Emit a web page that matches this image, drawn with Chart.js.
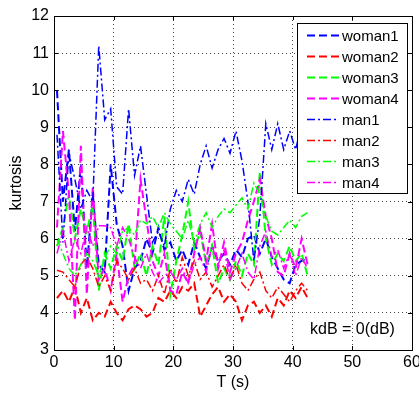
<!DOCTYPE html>
<html>
<head>
<meta charset="utf-8">
<script src="https://cdn.jsdelivr.net/npm/chart.js@4.4.0/dist/chart.umd.min.js"></script>
<style>
  html, body { margin: 0; padding: 0; background: #fff; }
  #wrap { width: 419px; height: 394px; }
</style>
</head>
<body>
<div id="wrap"><canvas id="chart" width="419" height="394"></canvas></div>
<script>
// time axis (s)
const T = [0.5, 1.5, 2.5, 3.5, 4.5, 5.5, 6.5, 7.5, 8.5, 9.5, 10.5, 11.5, 12.5, 13.5, 14.5,
  15.5, 16.5, 17.5, 18.5, 19.5, 20.5, 21.5, 22.5, 23.5, 24.5, 25.5, 26.5, 27.5, 28.5, 29.5,
  30.5, 31.5, 32.5, 33.5, 34.5, 35.5, 36.5, 37.5, 38.5, 39.5, 40.5, 41.5, 42.5];

const woman1 = [10.0, 7.0, 8.4, 6.2, 8.0, 5.2, 7.2, 5.3, 5.1, 8.0, 6.4, 5.8, 4.6, 5.2, 5.4,
  6.0, 5.6, 6.3, 5.7, 5.9, 5.4, 5.7, 5.3, 5.9, 5.5, 5.2, 5.8, 5.4, 5.6, 5.3,
  5.7, 5.5, 6.0, 6.1, 5.6, 6.0, 5.5, 5.2, 4.9, 4.8, 5.3, 5.4, 5.5];
const woman2 = [4.4, 4.6, 4.3, 4.7, 4.0, 4.4, 3.8, 4.0, 3.9, 4.3, 4.0, 3.8, 4.1, 4.2, 4.1,
  3.9, 4.0, 4.4, 4.3, 4.6, 4.4, 4.7, 4.6, 4.8, 3.9, 4.2, 4.5, 4.7, 4.3, 4.5,
  4.3, 3.8, 4.2, 4.3, 4.0, 4.2, 3.9, 4.4, 4.2, 4.6, 4.4, 4.7, 4.4];
const woman3 = [5.8, 6.3, 7.2, 6.0, 6.8, 6.2, 6.9, 4.6, 5.6, 5.2, 5.8, 5.4, 6.4, 5.2, 5.6,
  5.0, 5.8, 5.3, 6.6, 4.5, 5.4, 6.1, 7.0, 5.7, 6.2, 5.3, 5.8, 4.8, 5.2, 4.9,
  5.4, 5.0, 5.6, 5.3, 7.8, 6.0, 5.3, 5.6, 5.4, 5.8, 5.4, 5.6, 5.0];
const woman4 = [6.3, 8.9, 7.2, 3.8, 8.5, 4.5, 7.4, 4.9, 5.2, 4.6, 5.6, 4.3, 5.0, 5.3, 7.6,
  6.5, 5.4, 5.0, 5.6, 4.6, 4.5, 5.1, 4.8, 5.6, 6.3, 5.4, 6.4, 5.2, 5.9, 5.1,
  5.6, 5.9, 6.5, 7.0, 7.6, 6.6, 6.0, 5.1, 5.0, 5.6, 5.2, 6.0, 5.3];
const man1 = [8.8, 5.9, 8.3, 7.6, 6.8, 7.3, 7.0, 11.2, 9.2, 9.5, 7.4, 7.2, 9.5, 7.7, 8.5,
  7.2, 5.9, 6.2, 5.8, 6.8, 7.3, 7.0, 7.6, 7.2, 8.0, 8.5, 7.9, 8.4, 8.7, 8.3,
  8.9, 8.1, 7.0, 5.4, 6.6, 9.1, 8.4, 9.1, 8.4, 8.9, 8.4, 9.1, 8.6];
const man2 = [5.15, 5.1, 4.9, 4.7, 5.3, 5.5, 5.2, 4.7, 5.0, 4.6, 5.4, 5.2, 4.9, 5.2, 4.8,
  4.9, 4.6, 5.0, 4.5, 5.2, 4.8, 5.5, 5.0, 5.4, 4.9, 5.1, 4.7, 5.0, 5.3, 4.9,
  5.3, 4.8, 4.6, 4.9, 5.1, 4.6, 4.4, 4.7, 4.5, 4.3, 4.6, 4.8, 4.6];
const man3 = [6.0, 5.6, 5.2, 5.0, 5.3, 5.6, 5.4, 5.0, 5.5, 5.8, 5.6, 6.2, 6.3, 6.1, 6.5,
  6.4, 6.6, 6.3, 6.7, 6.4, 6.2, 6.0, 6.5, 5.9, 6.4, 6.7, 6.3, 6.6, 6.8, 6.7,
  6.9, 7.1, 6.8, 7.5, 7.2, 6.6, 6.2, 6.1, 6.3, 6.5, 6.3, 6.6, 6.7];
const man4 = [5.6, 6.2, 5.4, 6.0, 5.6, 6.3, 5.8, 6.35, 6.35, 6.3, 5.8, 6.3, 6.0, 5.5, 5.2,
  5.6, 5.1, 4.8, 5.0, 5.1, 4.9, 5.2, 4.8, 5.3, 5.5, 5.1, 5.8, 5.3, 5.7, 4.9,
  5.2, 5.6, 5.1, 4.9, 5.8, 6.2, 5.5, 5.7, 5.2, 5.6, 5.0, 5.5, 5.2];

const seriesNames = ['woman1', 'woman2', 'woman3', 'woman4', 'man1', 'man2', 'man3', 'man4'];
const seriesValues = [woman1, woman2, woman3, woman4, man1, man2, man3, man4];
const seriesColors = ['#0000ff', '#ff0000', '#00ff00', '#ff00ff', '#0000ff', '#ff0000', '#00ff00', '#ff00ff'];
const xTicks = [0, 10, 20, 30, 40, 50, 60];
const yTicks = [3, 4, 5, 6, 7, 8, 9, 10, 11, 12];
const noteText = 'kdB = 0(dB)';

const FONT = 'Arial, "Liberation Sans", Helvetica, sans-serif';
const DASHED = [8, 4];
const DASHDOT = [8, 3, 2, 3];

const datasets = seriesNames.map(function (name, i) {
  const isMan = i >= 4;
  return {
    label: name,
    data: T.map(function (t, k) { return { x: t, y: seriesValues[i][k] }; }),
    borderColor: seriesColors[i],
    backgroundColor: seriesColors[i],
    borderWidth: isMan ? 1.5 : 2,
    borderDash: isMan ? DASHDOT : DASHED,
    pointRadius: 0,
    tension: 0,
    fill: false,
    order: 8 - i   // later series on top, like the original
  };
});

// frame, inward ticks, legend box and the note
const matlabDecor = {
  id: 'matlabDecor',
  afterDraw(chart) {
    const ctx = chart.ctx;
    const a = chart.chartArea;
    const xs = chart.scales.x, ys = chart.scales.y;
    ctx.save();
    ctx.strokeStyle = '#000';
    ctx.lineWidth = 1;
    ctx.setLineDash([]);
    ctx.beginPath();
    xTicks.forEach(function (v) {
      const px = Math.round(xs.getPixelForValue(v)) + 0.5;
      ctx.moveTo(px, a.bottom); ctx.lineTo(px, a.bottom - 4);
      ctx.moveTo(px, a.top); ctx.lineTo(px, a.top + 4);
    });
    yTicks.forEach(function (v) {
      const py = Math.round(ys.getPixelForValue(v)) + 0.5;
      ctx.moveTo(a.left, py); ctx.lineTo(a.left + 4, py);
      ctx.moveTo(a.right, py); ctx.lineTo(a.right - 4, py);
    });
    ctx.stroke();
    ctx.strokeRect(Math.round(a.left) + 0.5, Math.round(a.top) + 0.5,
      Math.round(a.right - a.left), Math.round(a.bottom - a.top));

    // legend
    const lx = 297, ly = 23, lw = 110, lh = 170;
    ctx.fillStyle = '#fff';
    ctx.fillRect(lx, ly, lw, lh);
    ctx.strokeRect(lx + 0.5, ly + 0.5, lw, lh);
    ctx.font = '15px ' + FONT;
    ctx.textBaseline = 'middle';
    ctx.textAlign = 'left';
    chart.data.datasets.forEach(function (ds, i) {
      const y = Math.round(ly + 12 + i * 20.95) + 0.5;
      ctx.strokeStyle = ds.borderColor;
      ctx.lineWidth = ds.borderWidth;
      ctx.setLineDash(ds.borderDash);
      ctx.beginPath();
      ctx.moveTo(307, y); ctx.lineTo(339, y);
      ctx.stroke();
      ctx.fillStyle = '#000';
      ctx.fillText(ds.label, 342, y + 1);
    });

    ctx.setLineDash([]);
    ctx.fillStyle = '#000';
    ctx.font = '16px ' + FONT;
    ctx.fillText(noteText, 310, 330);
    ctx.restore();
  }
};

new Chart(document.getElementById('chart'), {
  type: 'line',
  data: { datasets: datasets },
  options: {
    responsive: false,
    animation: false,
    devicePixelRatio: 1,
    layout: { padding: { left: 0, right: 7, top: 16, bottom: 0 } },
    plugins: { legend: { display: false }, tooltip: { enabled: false } },
    scales: {
      x: {
        type: 'linear',
        min: 0, max: 60,
        afterBuildTicks: function (s) { s.ticks = xTicks.map(function (v) { return { value: v }; }); },
        afterFit: function (s) { s.height = 44; s.paddingLeft = 0; s.paddingRight = 0; },
        ticks: { color: '#000', font: { family: FONT, size: 16 }, padding: 3, maxRotation: 0 },
        grid: { color: '#444', lineWidth: 1, drawTicks: false },
        border: { display: false, dash: [1, 3] },
        title: { display: true, text: 'T (s)', color: '#000', font: { family: FONT, size: 16 }, padding: { top: 0, bottom: 2 } }
      },
      y: {
        type: 'linear',
        min: 3, max: 12,
        afterBuildTicks: function (s) { s.ticks = yTicks.map(function (v) { return { value: v }; }); },
        afterFit: function (s) { s.width = 54; s.paddingTop = 0; s.paddingBottom = 0; },
        ticks: { color: '#000', font: { family: FONT, size: 16 }, padding: 5 },
        grid: { color: '#444', lineWidth: 1, drawTicks: false },
        border: { display: false, dash: [1, 3] },
        title: { display: true, text: 'kurtosis', color: '#000', font: { family: FONT, size: 16 }, padding: { top: 7, bottom: 0 } }
      }
    }
  },
  plugins: [matlabDecor]
});
</script>
</body>
</html>
